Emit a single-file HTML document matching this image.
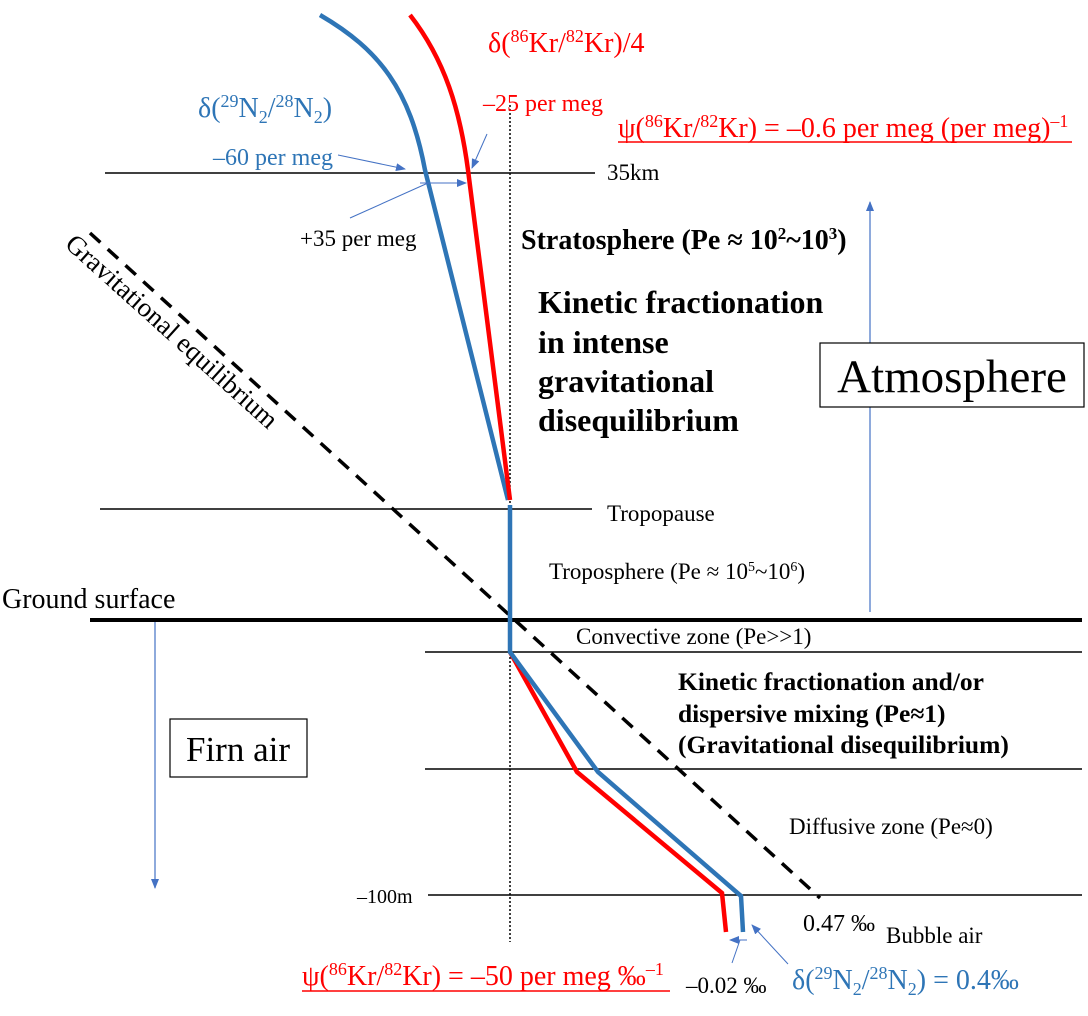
<!DOCTYPE html>
<html><head><meta charset="utf-8"><style>
html,body{margin:0;padding:0;background:#fff;}
svg{display:block;font-family:"Liberation Serif",serif;}
</style></head><body>
<svg width="1088" height="1016" viewBox="0 0 1088 1016" xmlns="http://www.w3.org/2000/svg">
<defs>
<marker id="ah" markerWidth="10" markerHeight="8" refX="9" refY="4" orient="auto" markerUnits="userSpaceOnUse"><path d="M0,0 L10,4 L0,8 z" fill="#4472C4"/></marker>
</defs>
<line x1="105" y1="173" x2="595" y2="173" stroke="#000" stroke-width="1.5"/>
<line x1="100" y1="509" x2="592" y2="509" stroke="#000" stroke-width="1.5"/>
<line x1="90" y1="620" x2="1082" y2="620" stroke="#000" stroke-width="4"/>
<line x1="425" y1="652" x2="1082" y2="652" stroke="#000" stroke-width="1.5"/>
<line x1="425" y1="769" x2="1082" y2="769" stroke="#000" stroke-width="1.5"/>
<line x1="428" y1="895" x2="1082" y2="895" stroke="#000" stroke-width="1.5"/>
<line x1="510" y1="105" x2="510" y2="942" stroke="#000" stroke-width="1.5" stroke-dasharray="2,2"/>
<line x1="90" y1="233" x2="820" y2="898" stroke="#000" stroke-width="3.5" stroke-dasharray="14,10"/>
<path d="M320,15 C380,50 410,90 425,170 L508,500" fill="none" stroke="#2E75B6" stroke-width="4.5"/>
<path d="M410,15 C445,60 460,110 468,170 L510,500" fill="none" stroke="#FF0000" stroke-width="4.5"/>
<path d="M510,652 L577,772 L722,893 L726,932" fill="none" stroke="#FF0000" stroke-width="4.5"/>
<path d="M510,505 L510,652 L598,772 L741,896 L743,932" fill="none" stroke="#2E75B6" stroke-width="4.5"/>
<line x1="338" y1="155" x2="405" y2="169" stroke="#4472C4" stroke-width="1" marker-end="url(#ah)"/>
<line x1="487" y1="134" x2="472" y2="168" stroke="#4472C4" stroke-width="1" marker-end="url(#ah)"/>
<line x1="350" y1="218" x2="428" y2="183" stroke="#4472C4" stroke-width="1"/>
<line x1="420" y1="183" x2="466" y2="183" stroke="#4472C4" stroke-width="1" marker-end="url(#ah)"/>
<line x1="732" y1="963" x2="740" y2="940" stroke="#4472C4" stroke-width="1"/>
<line x1="747" y1="940" x2="730" y2="940" stroke="#4472C4" stroke-width="1" marker-end="url(#ah)"/>
<line x1="788" y1="964" x2="752" y2="925" stroke="#4472C4" stroke-width="1" marker-end="url(#ah)"/>
<line x1="870" y1="612" x2="870" y2="202" stroke="#4472C4" stroke-width="1.2" marker-end="url(#ah)"/>
<line x1="155" y1="622" x2="155" y2="888" stroke="#4472C4" stroke-width="1.2" marker-end="url(#ah)"/>
<rect x="820" y="343" width="264" height="64" fill="#fff" stroke="#000" stroke-width="1.2"/>
<text x="952" y="392" font-size="47" text-anchor="middle">Atmosphere</text>
<rect x="170" y="719" width="137" height="58" fill="#fff" stroke="#000" stroke-width="1.2"/>
<text x="238" y="761" font-size="35" text-anchor="middle">Firn air</text>
<text x="198" y="117" font-size="28" fill="#2E75B6">δ(<tspan font-size="18" dy="-10">29</tspan><tspan dy="10">N</tspan><tspan font-size="18" dy="6">2</tspan><tspan dy="-6">/</tspan><tspan font-size="18" dy="-10">28</tspan><tspan dy="10">N</tspan><tspan font-size="18" dy="6">2</tspan><tspan dy="-6">)</tspan></text>
<text x="213" y="165" font-size="24" fill="#2E75B6">–60 per meg</text>
<text x="488" y="52" font-size="28" fill="#FF0000">δ(<tspan font-size="18" dy="-10">86</tspan><tspan dy="10">Kr/</tspan><tspan font-size="18" dy="-10">82</tspan><tspan dy="10">Kr)/4</tspan></text>
<text x="483" y="111" font-size="24" fill="#FF0000">–25 per meg</text>
<text x="618" y="137" font-size="28" fill="#FF0000">ψ(<tspan font-size="18" dy="-10">86</tspan><tspan dy="10">Kr/</tspan><tspan font-size="18" dy="-10">82</tspan><tspan dy="10">Kr) = –0.6 per meg (per meg)</tspan><tspan font-size="18" dy="-10">–1</tspan></text>
<line x1="618" y1="142" x2="1072" y2="142" stroke="#FF0000" stroke-width="1.5"/>
<text x="607" y="180" font-size="23">35km</text>
<text x="300" y="246" font-size="23">+35 per meg</text>
<text x="521" y="249" font-size="28" font-weight="bold">Stratosphere (Pe ≈ 10<tspan font-size="17" dy="-10">2</tspan><tspan dy="10">~10</tspan><tspan font-size="17" dy="-10">3</tspan><tspan dy="10">)</tspan></text>
<text font-size="32" font-weight="bold"><tspan x="538" y="313">Kinetic fractionation</tspan><tspan x="538" y="353">in intense</tspan><tspan x="538" y="392">gravitational</tspan><tspan x="538" y="431">disequilibrium</tspan></text>
<text x="166" y="338" font-size="27" text-anchor="middle" transform="rotate(42 166 338)">Gravitational equilibrium</text>
<text x="607" y="521" font-size="23">Tropopause</text>
<text x="549" y="579" font-size="23">Troposphere (Pe ≈ 10<tspan font-size="14" dy="-8">5</tspan><tspan dy="8">~10</tspan><tspan font-size="14" dy="-8">6</tspan><tspan dy="8">)</tspan></text>
<text x="2" y="608" font-size="28">Ground surface</text>
<text x="576" y="644" font-size="23">Convective zone (Pe&gt;&gt;1)</text>
<text font-size="25.5" font-weight="bold"><tspan x="678" y="690">Kinetic fractionation and/or</tspan><tspan x="678" y="722">dispersive mixing (Pe≈1)</tspan><tspan x="678" y="753">(Gravitational disequilibrium)</tspan></text>
<text x="789" y="834" font-size="23">Diffusive zone (Pe≈0)</text>
<text x="357" y="903" font-size="20">–100m</text>
<text x="803" y="931" font-size="24">0.47 ‰</text>
<text x="886" y="943" font-size="23">Bubble air</text>
<text x="302" y="985" font-size="28" fill="#FF0000">ψ(<tspan font-size="18" dy="-10">86</tspan><tspan dy="10">Kr/</tspan><tspan font-size="18" dy="-10">82</tspan><tspan dy="10">Kr) = –50 per meg ‰</tspan><tspan font-size="18" dy="-10">–1</tspan></text>
<line x1="302" y1="991" x2="670" y2="991" stroke="#FF0000" stroke-width="1.5"/>
<text x="686" y="993" font-size="23">–0.02 ‰</text>
<text x="792" y="989" font-size="28" fill="#2E75B6">δ(<tspan font-size="18" dy="-10">29</tspan><tspan dy="10">N</tspan><tspan font-size="18" dy="6">2</tspan><tspan dy="-6">/</tspan><tspan font-size="18" dy="-10">28</tspan><tspan dy="10">N</tspan><tspan font-size="18" dy="6">2</tspan><tspan dy="-6">) = 0.4‰</tspan></text>
</svg>
</body></html>
